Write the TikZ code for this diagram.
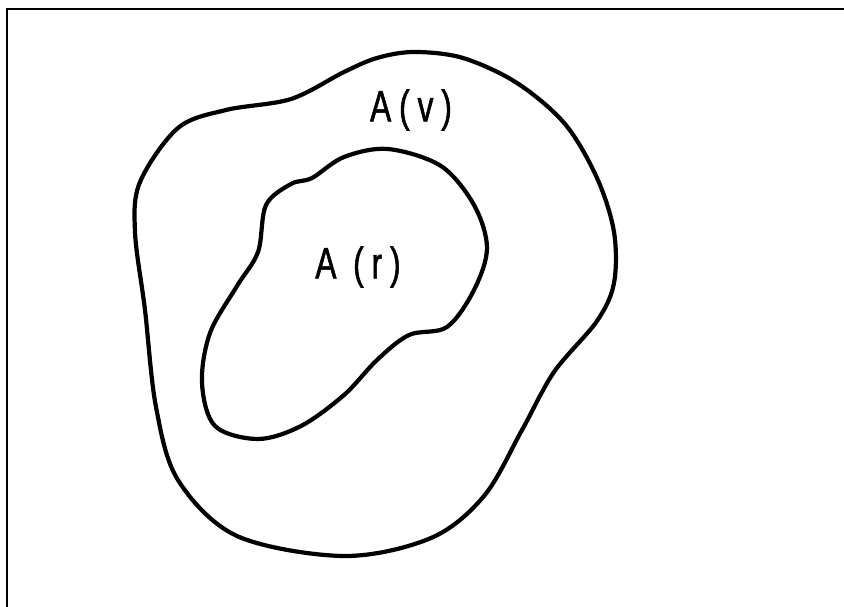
\documentclass[tikz,border=0pt]{standalone}
\usepackage{fontspec}
\setmainfont{Liberation Sans}
\newfontfamily\labfont[FakeStretch=0.72,LetterSpace=18,FakeBold=1.2]{Liberation Sans}
\begin{document}
\begin{tikzpicture}[x=1pt,y=-1pt,
  blob/.style={line width=4.2pt,line join=round},
  frameline/.style={line width=2.6pt},
  lbl/.style={font=\labfont\fontsize{44}{44}\selectfont,inner sep=0pt,anchor=center}]
\useasboundingbox (0,0) rectangle (844,607);
% frame
\coordinate (tl) at (7,9);
\coordinate (tr) at (844,9);
\coordinate (bl) at (7,607);
\draw[frameline] (bl) -- (tl) -- (tr);
% outer region A(v)
\draw[blob] plot[smooth cycle,tension=0.55] coordinates {
 (414,52) (463,58) (517,83) (565,124) (597,178) (614,232) (614,283)
 (597,321) (554,372) (522,430) (484,496) (431,538) (344,556) (237,536)
 (178,480) (156,407) (145,310) (135,232) (140,182) (178,128) (226,110)
 (291,99) (344,72) (377,58)};
% inner region A(r)
\draw[blob] plot[smooth cycle,tension=0.55] coordinates {
 (388,149) (441,166) (474,205) (487,248) (474,290) (447,327) (409,335)
 (377,360) (344,395) (301,426) (258,439) (215,426) (202,383) (210,333)
 (237,286) (258,252) (266,205) (291,184) (312,178) (344,157)};
\node[lbl] (av) at (411,110) {A(v)};
\node[lbl] (ar) at (358,267) {A (r)};
\end{tikzpicture}
\end{document}
